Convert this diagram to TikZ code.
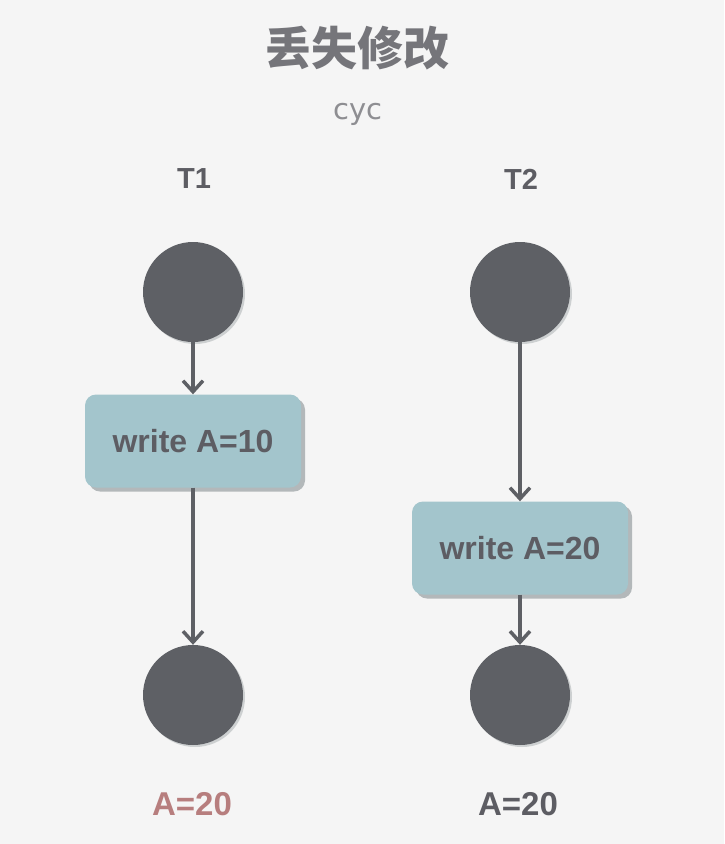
\documentclass[tikz,border=0pt]{standalone}
\usepackage{fontspec}
\setmainfont{Liberation Sans}
\newfontfamily\cjk{Noto Sans CJK SC}
\newfontfamily\wide{DejaVu Sans}
\usepackage{tikz}
\usetikzlibrary{arrows.meta,shadows}

\definecolor{bgcol}{HTML}{F5F5F5}
\definecolor{dotcol}{HTML}{5E6065}
\definecolor{boxcol}{HTML}{A3C5CC}
\definecolor{txtcol}{HTML}{5D5D63}
\definecolor{redcol}{HTML}{B77E7E}
\definecolor{shadecol}{HTML}{B3B8BA}

\tikzset{
  dot/.style={circle, fill=dotcol, minimum size=100pt, inner sep=0pt,
    drop shadow={shadow xshift=2pt, shadow yshift=-2pt, fill=shadecol, opacity=0.6}},
  writebox/.style={rectangle, rounded corners=11pt, fill=boxcol, minimum width=216pt,
    minimum height=93pt, inner sep=0pt, text=txtcol, font=\bfseries\fontsize{32}{36}\selectfont,
    drop shadow={shadow xshift=4pt, shadow yshift=-4pt, fill=shadecol, opacity=1}},
  lbl/.style={text=txtcol, font=\bfseries\fontsize{29}{32}\selectfont, inner sep=0pt},
  link/.style={draw=dotcol, line width=3.5pt, -{Straight Barb[length=11pt,width=20pt,line width=3.5pt]}}
}

\begin{document}
\begin{tikzpicture}[x=1pt,y=1pt,yscale=-1,xscale=1]
    % background
    \fill[bgcol] (0,0) rectangle (724,844);
    \useasboundingbox (0,0) rectangle (724,844);

    % Text Node
    \node[inner sep=0pt, text=txtcol!85!white, font=\cjk\bfseries\fontsize{46}{50}\selectfont] (title) at (357,48) {丢失修改};
    % Text Node
    \node[inner sep=0pt, text=txtcol!70!white, font=\wide\fontsize{29}{32}\selectfont] (author) at (358,114) {cyc};

    % Text Node
    \node[lbl] (t1) at (194,179) {T1};
    % Text Node
    \node[lbl] (t2) at (521,179) {T2};

    %Shape: Circle
    \node[dot] (s1) at (193,292) {};
    \node[dot] (s2) at (520,292) {};
    \node[dot] (e1) at (193,695) {};
    \node[dot] (e2) at (520,695) {};

    %Shape: Rectangle
    \node[writebox] (w1) at (193,441) {write A=10};
    \node[writebox] (w2) at (520,548) {write A=20};

    %Straight Lines
    \draw[link] (s1) -- (w1);
    \draw[link] (w1) -- (e1);
    \draw[link] (s2) -- (w2);
    \draw[link] (w2) -- (e2);

    % Text Node
    \node[lbl, text=redcol, font=\bfseries\fontsize{33}{36}\selectfont] (r1) at (192,804) {A=20};
    % Text Node
    \node[lbl, font=\bfseries\fontsize{33}{36}\selectfont] (r2) at (518,804) {A=20};
\end{tikzpicture}
\end{document}
